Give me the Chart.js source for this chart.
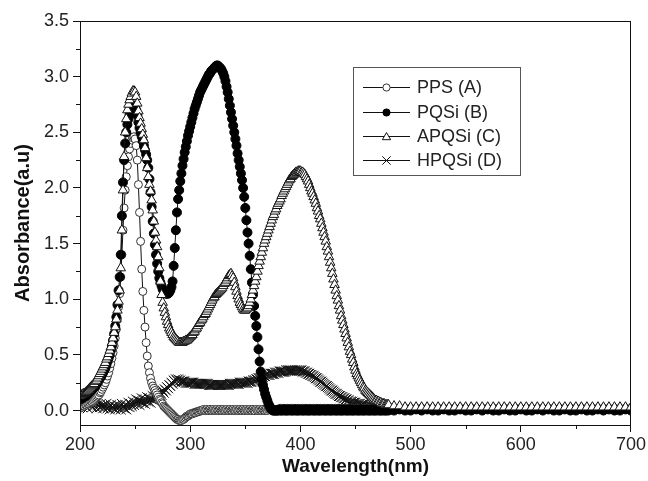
<!DOCTYPE html>
<html>
<head>
<meta charset="utf-8">
<script src="https://cdn.jsdelivr.net/npm/chart.js@4.4.0/dist/chart.umd.min.js"></script>
<style>
html,body{margin:0;padding:0;background:#fff;}
#wrap{width:648px;height:481px;}
</style>
</head>
<body>
<div id="wrap"><canvas id="c" width="648" height="481"></canvas></div>
<script>
// ---------- DATA ----------
const seriesLabels = ['PPS (A)', 'PQSi (B)', 'APQSi (C)', 'HPQSi (D)'];
const xTicks = [200, 300, 400, 500, 600, 700];
const yTicks = [0.0, 0.5, 1.0, 1.5, 2.0, 2.5, 3.0, 3.5];

const wavelength = [
200,201,202,203,204,205,206,207,208,209,
210,211,212,213,214,215,216,217,218,219,
220,221,222,223,224,225,226,227,228,229,
230,231,232,233,234,235,236,237,238,239,
240,241,242,243,244,245,246,247,248,249,
250,251,252,253,254,255,256,257,258,259,
260,261,262,263,264,265,266,267,268,269,
270,271,272,273,274,275,276,277,278,279,
280,281,282,283,284,285,286,287,288,289,
290,291,292,293,294,295,296,297,298,299,
300,301,302,303,304,305,306,307,308,309,
310,311,312,313,314,315,316,317,318,319,
320,321,322,323,324,325,326,327,328,329,
330,331,332,333,334,335,336,337,338,339,
340,341,342,343,344,345,346,347,348,349,
350,351,352,353,354,355,356,357,358,359,
360,361,362,363,364,365,366,367,368,369,
370,371,372,373,374,375,376,377,378,379,
380,381,382,383,384,385,386,387,388,389,
390,391,392,393,394,395,396,397,398,399,
400,401,402,403,404,405,406,407,408,409,
410,411,412,413,414,415,416,417,418,419,
420,421,422,423,424,425,426,427,428,429,
430,431,432,433,434,435,436,437,438,439,
440,441,442,443,444,445,446,447,448,449,
450,451,452,453,454,455,456,457,458,459,
460,461,462,463,464,465,466,467,468,469,
470,471,472,473,474,475,476,477,478,479,
480,
485,490,495,500,505,510,515,520,525,530,535,
540,545,550,555,560,565,570,575,580,585,590,
595,600,605,610,615,620,625,630,635,640,645,
650,655,660,665,670,675,680,685,690,695,700
];

const ppsA = [
0.02,0.03,0.03,0.04,0.04,0.05,0.05,0.06,0.06,0.07,
0.08,0.08,0.09,0.10,0.11,0.12,0.13,0.14,0.16,0.17,
0.19,0.21,0.23,0.25,0.28,0.31,0.34,0.38,0.42,0.47,
0.52,0.58,0.65,0.73,0.82,0.93,1.05,1.20,1.40,1.62,
1.82,1.98,2.10,2.20,2.28,2.35,2.40,2.43,2.45,2.46,
2.44,2.38,2.25,2.03,1.78,1.52,1.27,1.07,0.90,0.75,
0.61,0.49,0.40,0.34,0.29,0.25,0.22,0.20,0.18,0.16,
0.14,0.12,0.10,0.09,0.07,0.06,0.04,0.03,0.02,0.01,
0.00,-0.01,-0.02,-0.03,-0.04,-0.05,-0.06,-0.07,-0.08,-0.08,
-0.09,-0.09,-0.09,-0.08,-0.08,-0.07,-0.06,-0.05,-0.05,-0.04,
-0.03,-0.03,-0.03,-0.02,-0.02,-0.02,-0.01,-0.01,-0.01,0.00,
0.00,0.00,0.01,0.00,0.00,0.01,0.00,0.00,0.01,0.00,
0.00,0.01,0.00,0.00,0.01,0.00,0.00,0.01,0.00,0.00,
0.01,0.00,0.00,0.01,0.00,0.00,0.01,0.00,0.00,0.01,
0.00,0.00,0.01,0.00,0.00,0.01,0.00,0.00,0.01,0.00,
0.00,0.01,0.00,0.00,0.01,0.00,0.00,0.01,0.00,0.00,
0.01,0.00,0.00,0.01,0.00,0.00,0.01,0.00,0.00,0.01,
0.00,0.01,0.01,0.01,0.01,0.01,0.01,0.01,0.01,0.01,
0.01,0.01,0.02,0.01,0.01,0.02,0.01,0.01,0.02,0.01,
0.01,0.01,0.02,0.01,0.01,0.02,0.01,0.01,0.02,0.01,
0.01,0.01,0.02,0.01,0.01,0.02,0.01,0.01,0.02,0.01,
0.01,0.01,0.02,0.01,0.01,0.02,0.01,0.01,0.02,0.01,
0.01,0.01,0.02,0.01,0.01,0.02,0.01,0.01,0.02,0.01,
0.01,0.01,0.02,0.01,0.01,0.02,0.01,0.01,0.02,0.01,
0.01,0.01,0.02,0.01,0.01,0.02,0.01,0.01,0.02,0.01,
0.01,0.01,0.02,0.01,0.01,0.02,0.01,0.01,0.02,0.01,
0.01,0.01,0.02,0.01,0.01,0.02,0.01,0.01,0.02,0.01,
0.01,0.01,0.02,0.01,0.01,0.02,0.01,0.01,0.02,0.01,
0.01,
0.01,0.01,0.01,0.01,0.01,0.01,0.01,0.01,0.01,0.01,0.01,
0.01,0.01,0.01,0.01,0.01,0.01,0.01,0.01,0.01,0.01,0.01,
0.01,0.01,0.01,0.01,0.01,0.01,0.01,0.01,0.01,0.01,0.01,
0.01,0.01,0.01,0.01,0.01,0.01,0.01,0.01,0.01,0.01,0.01
];

const pqsiB = [
0.10,0.11,0.11,0.12,0.13,0.13,0.14,0.15,0.16,0.17,
0.18,0.19,0.20,0.21,0.22,0.24,0.25,0.27,0.29,0.30,
0.32,0.34,0.36,0.38,0.41,0.44,0.47,0.50,0.54,0.58,
0.63,0.69,0.76,0.84,0.95,1.08,1.20,1.40,1.75,2.05,
2.25,2.40,2.50,2.57,2.62,2.66,2.70,2.72,2.74,2.74,
2.73,2.70,2.65,2.59,2.54,2.50,2.46,2.42,2.38,2.34,
2.30,2.25,2.18,2.08,1.96,1.83,1.70,1.59,1.49,1.40,
1.32,1.25,1.19,1.15,1.12,1.09,1.07,1.06,1.05,1.05,
1.05,1.06,1.08,1.11,1.16,1.30,1.46,1.62,1.78,1.90,
1.98,2.06,2.13,2.20,2.26,2.32,2.37,2.42,2.47,2.51,
2.55,2.59,2.63,2.67,2.71,2.74,2.77,2.80,2.83,2.86,
2.88,2.90,2.92,2.94,2.96,2.98,3.00,3.02,3.03,3.05,
3.06,3.07,3.08,3.09,3.10,3.10,3.09,3.08,3.07,3.05,
3.03,3.00,2.96,2.91,2.86,2.80,2.74,2.68,2.62,2.56,
2.50,2.44,2.38,2.31,2.25,2.19,2.13,2.07,2.00,1.92,
1.82,1.71,1.60,1.50,1.39,1.27,1.15,1.04,0.94,0.85,
0.76,0.66,0.55,0.44,0.35,0.28,0.23,0.19,0.15,0.12,
0.09,0.06,0.04,0.02,0.01,0.00,0.00,0.00,0.00,0.00,
0.00,0.01,0.00,0.00,0.01,0.00,0.01,0.00,0.00,0.01,
0.00,0.01,0.00,0.00,0.01,0.00,0.01,0.00,0.00,0.01,
0.00,0.01,0.00,0.00,0.01,0.00,0.01,0.00,0.00,0.01,
0.00,0.01,0.00,0.00,0.01,0.00,0.01,0.00,0.00,0.01,
0.00,0.01,0.00,0.00,0.01,0.00,0.01,0.00,0.00,0.01,
0.00,0.01,0.00,0.00,0.01,0.00,0.01,0.00,0.00,0.01,
0.00,0.01,0.00,0.00,0.01,0.00,0.01,0.00,0.00,0.01,
0.00,0.01,0.00,0.00,0.01,0.00,0.01,0.00,0.00,0.01,
0.00,0.01,0.00,0.00,0.01,0.00,0.01,0.00,0.00,0.01,
0.00,0.01,0.00,0.00,0.01,0.00,0.01,0.00,0.00,0.01,
0.00,
0.00,0.01,0.00,0.00,0.01,0.00,0.01,0.00,0.00,0.01,0.00,
0.00,0.01,0.00,0.00,0.01,0.00,0.01,0.00,0.00,0.01,0.00,
0.00,0.01,0.00,0.00,0.01,0.00,0.01,0.00,0.00,0.01,0.00,
0.00,0.01,0.00,0.00,0.01,0.00,0.01,0.00,0.00,0.01,0.00
];

const apqsiC = [
0.13,0.14,0.14,0.15,0.15,0.16,0.17,0.18,0.19,0.20,
0.21,0.22,0.23,0.24,0.26,0.27,0.29,0.31,0.33,0.35,
0.37,0.39,0.41,0.43,0.46,0.48,0.51,0.54,0.57,0.61,
0.65,0.70,0.75,0.82,0.90,0.98,1.08,1.28,1.62,1.98,
2.28,2.50,2.62,2.70,2.75,2.79,2.82,2.85,2.87,2.87,
2.86,2.82,2.76,2.69,2.63,2.58,2.53,2.48,2.43,2.36,
2.27,2.18,2.10,2.03,1.97,1.89,1.80,1.70,1.60,1.53,
1.47,1.38,1.28,1.16,1.04,0.97,0.92,0.88,0.84,0.80,
0.77,0.74,0.72,0.70,0.68,0.66,0.65,0.64,0.63,0.62,
0.61,0.61,0.61,0.61,0.62,0.62,0.63,0.63,0.64,0.65,
0.66,0.67,0.68,0.70,0.71,0.73,0.74,0.76,0.78,0.79,
0.81,0.82,0.84,0.86,0.87,0.89,0.91,0.93,0.95,0.97,
0.99,1.01,1.02,1.04,1.05,1.06,1.07,1.08,1.09,1.10,
1.12,1.14,1.15,1.17,1.19,1.21,1.22,1.23,1.21,1.19,
1.15,1.11,1.07,1.03,1.00,0.97,0.95,0.93,0.91,0.90,
0.90,0.91,0.92,0.94,0.97,1.00,1.04,1.08,1.12,1.16,
1.20,1.25,1.30,1.34,1.38,1.42,1.46,1.50,1.53,1.56,
1.59,1.62,1.65,1.68,1.71,1.74,1.76,1.79,1.81,1.84,
1.86,1.88,1.90,1.93,1.95,1.97,1.99,2.01,2.03,2.05,
2.07,2.08,2.10,2.11,2.12,2.13,2.14,2.14,2.15,2.15,
2.15,2.14,2.14,2.13,2.12,2.10,2.08,2.06,2.03,2.00,
1.97,1.95,1.92,1.89,1.86,1.82,1.79,1.75,1.72,1.68,
1.64,1.60,1.56,1.52,1.47,1.43,1.38,1.33,1.28,1.23,
1.18,1.13,1.08,1.03,0.99,0.94,0.90,0.85,0.81,0.77,
0.73,0.69,0.65,0.61,0.57,0.53,0.50,0.46,0.43,0.39,
0.36,0.33,0.31,0.29,0.27,0.25,0.23,0.21,0.20,0.18,
0.17,0.16,0.15,0.14,0.13,0.12,0.11,0.10,0.09,0.09,
0.08,0.08,0.07,0.07,0.06,0.06,0.06,0.05,0.05,0.05,
0.05,
0.04,0.04,0.03,0.03,0.03,0.03,0.03,0.03,0.03,0.03,0.03,
0.03,0.03,0.03,0.03,0.03,0.03,0.03,0.03,0.03,0.03,0.03,
0.03,0.03,0.03,0.03,0.03,0.03,0.03,0.03,0.03,0.03,0.03,
0.03,0.03,0.03,0.03,0.03,0.03,0.03,0.03,0.03,0.03,0.03
];

const hpqsiD = [
0.05,0.09,0.03,0.07,0.11,0.04,0.08,0.02,0.06,0.10,
0.05,0.03,0.08,0.04,0.07,0.02,0.05,0.09,0.03,0.06,
0.04,0.02,0.05,0.03,0.06,0.02,0.04,0.01,0.05,0.03,
0.02,0.04,0.01,0.03,0.05,0.02,0.04,0.01,0.06,0.03,
0.02,0.05,0.01,0.04,0.07,0.03,0.06,0.04,0.08,0.05,
0.07,0.10,0.06,0.09,0.05,0.08,0.11,0.07,0.10,0.06,
0.09,0.12,0.08,0.11,0.07,0.10,0.13,0.09,0.12,0.14,
0.11,0.15,0.13,0.16,0.14,0.18,0.16,0.19,0.18,0.21,
0.20,0.23,0.22,0.25,0.24,0.27,0.26,0.28,0.27,0.28,
0.27,0.27,0.26,0.26,0.26,0.26,0.25,0.25,0.25,0.25,
0.25,0.25,0.25,0.25,0.24,0.24,0.24,0.24,0.24,0.24,
0.24,0.24,0.24,0.24,0.24,0.24,0.24,0.23,0.23,0.23,
0.23,0.23,0.23,0.23,0.23,0.23,0.23,0.23,0.23,0.23,
0.23,0.23,0.23,0.23,0.23,0.23,0.24,0.24,0.24,0.24,
0.24,0.24,0.24,0.24,0.24,0.25,0.25,0.25,0.25,0.25,
0.25,0.25,0.25,0.26,0.26,0.26,0.26,0.27,0.27,0.27,
0.28,0.28,0.29,0.29,0.29,0.30,0.30,0.31,0.31,0.32,
0.32,0.32,0.32,0.33,0.33,0.33,0.33,0.34,0.34,0.34,
0.34,0.35,0.35,0.35,0.35,0.35,0.35,0.36,0.36,0.36,
0.36,0.36,0.36,0.36,0.36,0.36,0.36,0.36,0.36,0.36,
0.36,0.36,0.35,0.35,0.35,0.34,0.34,0.33,0.33,0.32,
0.32,0.31,0.31,0.30,0.29,0.29,0.28,0.27,0.26,0.26,
0.25,0.24,0.23,0.22,0.22,0.21,0.20,0.19,0.18,0.18,
0.17,0.16,0.15,0.15,0.14,0.13,0.13,0.12,0.12,0.11,
0.11,0.10,0.10,0.09,0.09,0.08,0.08,0.08,0.07,0.07,
0.07,0.06,0.06,0.06,0.06,0.05,0.05,0.05,0.05,0.04,
0.04,0.04,0.04,0.04,0.04,0.03,0.03,0.03,0.03,0.03,
0.03,0.03,0.03,0.03,0.03,0.03,0.03,0.03,0.02,0.02,
0.02,
0.02,0.02,0.02,0.02,0.02,0.02,0.02,0.02,0.02,0.02,0.02,
0.02,0.02,0.02,0.02,0.02,0.02,0.02,0.02,0.02,0.02,0.02,
0.02,0.02,0.02,0.02,0.02,0.02,0.02,0.02,0.02,0.02,0.02,
0.02,0.02,0.02,0.02,0.02,0.02,0.02,0.02,0.02,0.02,0.02
];

// ---------- CHART ----------
const FONT = "'Liberation Sans', Arial, Helvetica, sans-serif";
const INK = '#111';

function pts(vals) { return wavelength.map((w, i) => ({ x: w, y: vals[i] })); }

const styles = [
  { pointStyle: 'circle',   r: 4.0, bg: '#ffffff', bc: '#333', order: 2 },
  { pointStyle: 'circle',   r: 4.5, bg: '#000000', bc: '#000', order: 1 },
  { pointStyle: 'triangle', r: 5.5, bg: '#ffffff', bc: '#111', order: 0 },
  { pointStyle: 'crossRot', r: 7.0, bg: '#000000', bc: '#111', order: 3 }
];
const allSeries = [ppsA, pqsiB, apqsiC, hpqsiD];

const datasets = allSeries.map((vals, i) => ({
  label: seriesLabels[i],
  data: pts(vals),
  borderColor: INK,
  borderWidth: 1,
  pointStyle: styles[i].pointStyle,
  pointRadius: styles[i].r,
  pointBackgroundColor: styles[i].bg,
  pointBorderColor: styles[i].bc,
  pointBorderWidth: 1,
  tension: 0,
  fill: false,
  order: styles[i].order
}));

const framePlugin = {
  id: 'frame',
  afterDraw(chart) {
    const { ctx, chartArea: a, scales } = chart;
    ctx.save();
    ctx.strokeStyle = INK;
    ctx.lineWidth = 1;
    ctx.strokeRect(Math.round(a.left) + 0.5, Math.round(a.top) + 0.5,
                   Math.round(a.right - a.left) - 1, Math.round(a.bottom - a.top));
    // minor ticks
    ctx.beginPath();
    for (let i = 0; i < xTicks.length - 1; i++) {
      const v = (xTicks[i] + xTicks[i + 1]) / 2;
      const px = Math.round(scales.x.getPixelForValue(v)) + 0.5;
      ctx.moveTo(px, a.bottom); ctx.lineTo(px, a.bottom + 4);
    }
    for (let i = 0; i < yTicks.length - 1; i++) {
      const v = (yTicks[i] + yTicks[i + 1]) / 2;
      const py = Math.round(scales.y.getPixelForValue(v)) + 0.5;
      ctx.moveTo(a.left, py); ctx.lineTo(a.left - 4, py);
    }
    ctx.stroke();

    // legend
    const bx = 353.5, by = 67.5, bw = 167, bh = 108;
    ctx.strokeStyle = '#555';
    ctx.fillStyle = '#fff';
    ctx.fillRect(bx, by, bw, bh);
    ctx.strokeRect(bx, by, bw, bh);
    const rowsY = [87, 112, 136, 160];
    chart.data.datasets.forEach((ds, i) => {
      const y = rowsY[i] + 0.5;
      ctx.strokeStyle = INK; ctx.lineWidth = 1;
      ctx.beginPath(); ctx.moveTo(363, y); ctx.lineTo(410, y); ctx.stroke();
      const cx = 386.5;
      ctx.fillStyle = styles[i].bg; ctx.strokeStyle = styles[i].bc;
      ctx.beginPath();
      if (ds.pointStyle === 'circle') {
        ctx.arc(cx, y, 3.6, 0, Math.PI * 2); ctx.fill(); ctx.stroke();
      } else if (ds.pointStyle === 'triangle') {
        const r = 4.8;
        for (let k = 0; k < 3; k++) {
          const ang = k * 2 * Math.PI / 3;
          const px = cx + Math.sin(ang) * r, py = y + 0.8 - Math.cos(ang) * r;
          if (k === 0) ctx.moveTo(px, py); else ctx.lineTo(px, py);
        }
        ctx.closePath(); ctx.fill(); ctx.stroke();
      } else {
        const d = 4.2;
        ctx.moveTo(cx - d, y - d); ctx.lineTo(cx + d, y + d);
        ctx.moveTo(cx + d, y - d); ctx.lineTo(cx - d, y + d); ctx.stroke();
      }
      ctx.fillStyle = '#222';
      ctx.font = '18px ' + FONT;
      ctx.textBaseline = 'middle';
      ctx.textAlign = 'left';
      ctx.fillText(ds.label, 417, y + 1);
    });
    ctx.restore();
  }
};

new Chart(document.getElementById('c'), {
  type: 'line',
  data: { datasets },
  options: {
    responsive: false,
    animation: false,
    events: [],
    layout: { padding: { top: 21, right: 16, left: 0, bottom: 0 } },
    plugins: { legend: { display: false }, tooltip: { enabled: false } },
    scales: {
      x: {
        type: 'linear', min: 200, max: 700,
        afterBuildTicks: s => { s.ticks = xTicks.map(v => ({ value: v })); },
        ticks: { font: { family: FONT, size: 18 }, color: '#222', padding: 2, maxRotation: 0 },
        grid: { drawOnChartArea: false, drawTicks: true, tickLength: 7, color: INK },
        border: { color: INK, width: 1 },
        title: { display: true, text: 'Wavelength(nm)', color: '#111',
                 font: { family: FONT, size: 19, weight: 'bold' }, padding: { top: 0, bottom: 3 } },
        afterFit: s => { s.height = 56; }
      },
      y: {
        type: 'linear', min: -0.13, max: 3.5,
        afterBuildTicks: s => { s.ticks = yTicks.map(v => ({ value: v })); },
        ticks: { font: { family: FONT, size: 18 }, color: '#222', padding: 4,
                 callback: v => Number(v).toFixed(1) },
        grid: { drawOnChartArea: false, drawTicks: true, tickLength: 7, color: INK },
        border: { color: INK, width: 1 },
        title: { display: true, text: 'Absorbance(a.u)', color: '#111',
                 font: { family: FONT, size: 20, weight: 'bold' }, padding: { top: 11, bottom: 0 } },
        afterFit: s => { s.width = 80; }
      }
    }
  },
  plugins: [framePlugin]
});
</script>
</body>
</html>
